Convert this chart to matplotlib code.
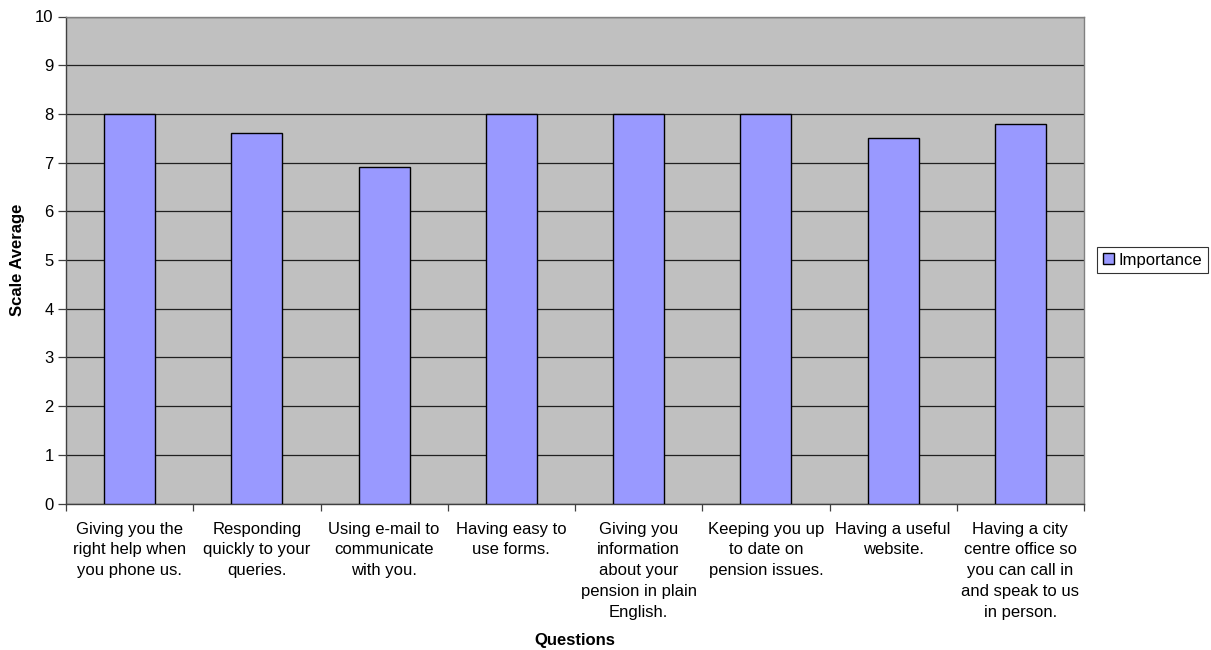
import matplotlib
matplotlib.use("Agg")
import matplotlib.pyplot as plt
import numpy as np

categories = [
    "Giving you the\nright help when\nyou phone us.",
    "Responding\nquickly to your\nqueries.",
    "Using e-mail to\ncommunicate\nwith you.",
    "Having easy to\nuse forms.",
    "Giving you\ninformation\nabout your\npension in plain\nEnglish.",
    "Keeping you up\nto date on\npension issues.",
    "Having a useful\nwebsite.",
    "Having a city\ncentre office so\nyou can call in\nand speak to us\nin person.",
]
importance = [8.0, 7.6, 6.9, 8.0, 8.0, 8.0, 7.5, 7.8]
series_name = "Importance"
y_ticks = list(range(0, 11))

plt.rcParams['font.family'] = ['Liberation Sans', 'DejaVu Sans']

fig = plt.figure(figsize=(12.11, 6.5), dpi=100)
ax = fig.add_axes([66/1211, 1-503.5/650, (1084-66)/1211, (503.5-16.5)/650])
ax.set_facecolor('#C0C0C0')

x = np.arange(len(categories))
ax.bar(x, importance, width=0.4, color='#9999FF', edgecolor='black', linewidth=1.0,
       label=series_name, zorder=3)

ax.set_xlim(-0.5, len(categories) - 0.5)
ax.set_ylim(0, 10)
ax.set_yticks(y_ticks)
ax.yaxis.grid(True, color='#202020', linewidth=0.9, zorder=1)
ax.set_axisbelow(True)

ax.set_xticks(x)
ax.set_xticklabels(categories, fontsize=12, linespacing=1.48, va='top')
ax.tick_params(axis='x', which='major', length=0, pad=13)
ax.set_xticks(np.arange(len(categories) + 1) - 0.5, minor=True)
ax.tick_params(axis='x', which='minor', length=5, width=0.9, color='#404040')
ax.tick_params(axis='y', length=6, width=0.9, color='#404040', labelsize=12, pad=3)

for side in ['left', 'bottom']:
    ax.spines[side].set_color('#404040')
    ax.spines[side].set_linewidth(1.0)
for side in ['top', 'right']:
    ax.spines[side].set_color('#808080')
    ax.spines[side].set_linewidth(1.0)

ax.set_ylabel('Scale Average', fontsize=12, fontweight='bold')
ax.yaxis.set_label_coords(-(66-25)/1018, 0.5)
ax.set_xlabel('Questions', fontsize=12, fontweight='bold', va='center')
ax.xaxis.set_label_coords(0.5, -(640-503.5)/487)

leg = ax.legend(loc='center left', bbox_to_anchor=(1097/1211, 1-260/650),
                bbox_transform=fig.transFigure, frameon=True, fancybox=False,
                fontsize=12, handlelength=0.65, handleheight=0.65, handletextpad=0.3,
                borderpad=0.35, borderaxespad=0)
leg.get_frame().set_edgecolor('black')
leg.get_frame().set_linewidth(0.8)

fig.savefig('out.png', dpi=100)
